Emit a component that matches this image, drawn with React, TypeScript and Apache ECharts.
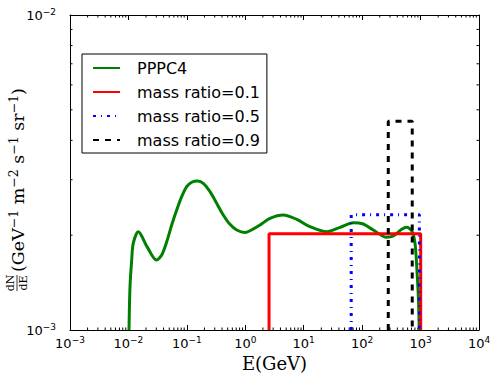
import React, { useEffect, useRef } from "react";
import * as echarts from "echarts";

// PPPC4 spectrum (E in GeV, dN/dE)
const pppc4Energy = [
  0.01023, 0.01064, 0.01137, 0.01211, 0.01476, 0.0208, 0.0302, 0.0371, 0.0452, 0.055, 0.067, 0.0816, 0.0994, 0.121, 0.153,
  0.191, 0.249, 0.324, 0.42, 0.547, 0.713, 0.99, 1.204, 1.786, 2.648, 4.47, 7.59, 12.81, 24.7, 41.8, 70.6, 104.6, 155, 263,
  341, 475, 578, 705, 803, 879, 921, 950,
];
const pppc4Flux = [
  1.0e-3, 1.373e-3, 1.667e-3, 1.888e-3, 2.05e-3, 1.84e-3, 1.667e-3, 1.73e-3, 1.906e-3, 2.154e-3, 2.404e-3, 2.65e-3, 2.851e-3,
  2.944e-3, 2.97e-3, 2.922e-3, 2.748e-3, 2.525e-3, 2.318e-3, 2.165e-3, 2.077e-3, 2.04e-3, 2.066e-3, 2.154e-3, 2.262e-3,
  2.318e-3, 2.245e-3, 2.128e-3, 2.051e-3, 2.118e-3, 2.191e-3, 2.17e-3, 2.077e-3, 1.969e-3, 1.988e-3, 2.087e-3, 2.118e-3,
  2.066e-3, 1.885e-3, 1.48e-3, 1.245e-3, 1.0e-3,
];

// box spectra
const ratio01Energy = [2.55, 2.55, 1005, 1005];
const ratio01Flux = [1e-3, 2.02e-3, 2.02e-3, 1e-3];
const ratio05Energy = [65, 65, 955, 955];
const ratio05Flux = [1e-3, 2.32e-3, 2.32e-3, 1e-3];
const ratio09Energy = [280, 280, 720, 720];
const ratio09Flux = [1e-3, 4.6e-3, 4.6e-3, 1e-3];

const seriesNames = ["PPPC4", "mass ratio=0.1", "mass ratio=0.5", "mass ratio=0.9"];

// axis ranges
const xMin = 1e-3;
const xMax = 1e4;
const yMin = 1e-3;
const yMax = 1e-2;
const xMinorMultipliers = [2, 3, 4, 5, 6, 7, 8, 9];
const xDecades = [-3, -2, -1, 0, 1, 2, 3];
const yMinorValues = [2e-3, 3e-3, 4e-3, 5e-3, 6e-3, 7e-3, 8e-3, 9e-3];

const zip = (a: number[], b: number[]) => a.map((v, i) => [v, b[i]]);

const tickLabel = (v: number) => {
  const e = Math.round(Math.log10(v));
  return `{b|10}{s|${e < 0 ? "\u2212" : ""}${Math.abs(e)}}`;
};

const labelRich = {
  b: { fontSize: 13, fontFamily: "DejaVu Sans", color: "#000" },
  s: { fontSize: 9, fontFamily: "DejaVu Sans", color: "#000", padding: [0, 0, 7, 0] },
};

export default function App() {
  const ref = useRef<HTMLDivElement>(null);
  useEffect(() => {
    if (!ref.current) return;
    const chart = echarts.init(ref.current, undefined, { renderer: "svg" });

    const xMinorData: number[][] = [];
    xDecades.forEach((d) => xMinorMultipliers.forEach((m) => xMinorData.push([m * Math.pow(10, d), yMin])));
    const yMinorData = yMinorValues.map((v) => [xMin, v]);

    const tickStyle = { stroke: "#000", lineWidth: 1 };

    const baseX = {
      type: "log" as const,
      min: xMin,
      max: xMax,
      logBase: 10,
      interval: 1,
      splitLine: { show: false },
      axisLine: { show: true, onZero: false, lineStyle: { color: "#000", width: 1 } },
      axisTick: { show: true, inside: true, length: 5, lineStyle: { color: "#000", width: 1 } },
    };
    const baseY = {
      type: "log" as const,
      min: yMin,
      max: yMax,
      logBase: 10,
      interval: 1,
      splitLine: { show: false },
      axisLine: { show: true, onZero: false, lineStyle: { color: "#000", width: 1 } },
      axisTick: { show: true, inside: true, length: 5, lineStyle: { color: "#000", width: 1 } },
    };

    chart.setOption({
      animation: false,
      backgroundColor: "#fff",
      grid: { left: 70, right: 20, top: 15, bottom: 49, containLabel: false },
      xAxis: [
        {
          ...baseX,
          position: "bottom",
          axisLabel: { margin: 5, formatter: tickLabel, rich: labelRich },
          name: "E(GeV)",
          nameLocation: "middle",
          nameGap: 15,
          nameTextStyle: { fontFamily: "DejaVu Serif", fontSize: 18, color: "#000", verticalAlign: "top" },
        },
        { ...baseX, position: "top", axisLabel: { show: false } },
      ],
      yAxis: [
        {
          ...baseY,
          position: "left",
          axisLabel: { margin: 14, formatter: tickLabel, rich: labelRich },
        },
        { ...baseY, position: "right", axisLabel: { show: false } },
      ],
      legend: {
        data: seriesNames,
        orient: "vertical",
        left: 82,
        top: 54,
        padding: [6, 7, 5, 10],
        itemGap: 8,
        itemWidth: 27,
        itemHeight: 14,
        borderColor: "#000",
        borderWidth: 1,
        borderRadius: 0,
        backgroundColor: "#fff",
        itemStyle: { opacity: 0 },
        textStyle: { fontFamily: "DejaVu Sans", fontSize: 16, color: "#000", lineHeight: 16, padding: [0, 0, 0, 12] },
      },
      series: [
        {
          name: seriesNames[0],
          type: "line",
          data: zip(pppc4Energy, pppc4Flux),
          smooth: 0.3,
          showSymbol: false,
          symbol: "none",
          lineStyle: { color: "#008000", width: 3 },
          itemStyle: { color: "#008000" },
        },
        {
          name: seriesNames[1],
          type: "line",
          data: zip(ratio01Energy, ratio01Flux),
          symbol: "none",
          lineStyle: { color: "#ff0000", width: 3 },
          itemStyle: { color: "#ff0000" },
        },
        {
          name: seriesNames[2],
          type: "line",
          data: zip(ratio05Energy, ratio05Flux),
          symbol: "none",
          lineStyle: { color: "#0000ff", width: 3, type: [3, 5, 1, 5], cap: "butt" },
          itemStyle: { color: "#0000ff" },
        },
        {
          name: seriesNames[3],
          type: "line",
          data: zip(ratio09Energy, ratio09Flux),
          symbol: "none",
          lineStyle: { color: "#000", width: 3, type: [6, 6], cap: "butt" },
          itemStyle: { color: "#000" },
        },
        {
          type: "custom",
          silent: true,
          data: xMinorData,
          renderItem: (_p: any, api: any) => {
            const v = api.value(0);
            const pb = api.coord([v, yMin]);
            const pt = api.coord([v, yMax]);
            return {
              type: "group",
              children: [
                { type: "line", shape: { x1: pb[0], y1: pb[1], x2: pb[0], y2: pb[1] - 2.5 }, style: tickStyle },
                { type: "line", shape: { x1: pt[0], y1: pt[1], x2: pt[0], y2: pt[1] + 2.5 }, style: tickStyle },
              ],
            };
          },
        },
        {
          type: "custom",
          silent: true,
          data: yMinorData,
          renderItem: (_p: any, api: any) => {
            const v = api.value(1);
            const pl = api.coord([xMin, v]);
            const pr = api.coord([xMax, v]);
            return {
              type: "group",
              children: [
                { type: "line", shape: { x1: pl[0], y1: pl[1], x2: pl[0] + 2.5, y2: pl[1] }, style: tickStyle },
                { type: "line", shape: { x1: pr[0], y1: pr[1], x2: pr[0] - 2.5, y2: pr[1] }, style: tickStyle },
              ],
            };
          },
        },
      ],
      graphic: [
        {
          type: "group",
          x: 17,
          y: 185,
          rotation: Math.PI / 2,
          children: [
            {
              type: "text",
              x: -98,
              y: -6.5,
              style: { text: "dN", fontFamily: "DejaVu Serif", fontSize: 11, fill: "#000", align: "center", verticalAlign: "middle" },
            },
            { type: "line", shape: { x1: -106, y1: 0, x2: -90, y2: 0 }, style: { stroke: "#000", lineWidth: 0.8 } },
            {
              type: "text",
              x: -98,
              y: 6.5,
              style: { text: "dE", fontFamily: "DejaVu Serif", fontSize: 11, fill: "#000", align: "center", verticalAlign: "middle" },
            },
            {
              type: "text",
              x: -87,
              y: 1,
              style: {
                text: "(GeV{s|\u22121} m{s|\u22122} s{s|\u22121} sr{s|\u22121})",
                fontFamily: "DejaVu Serif",
                fontSize: 17.5,
                fill: "#000",
                align: "left",
                verticalAlign: "middle",
                rich: { s: { fontFamily: "DejaVu Serif", fontSize: 12.5, fill: "#000", padding: [0, 0, 9, 0] } },
              },
            },
          ],
        },
      ],
    });
    return () => chart.dispose();
  }, []);
  return <div ref={ref} style={{ width: 499, height: 379, position: "absolute", left: 0, top: 0 }} />;
}
